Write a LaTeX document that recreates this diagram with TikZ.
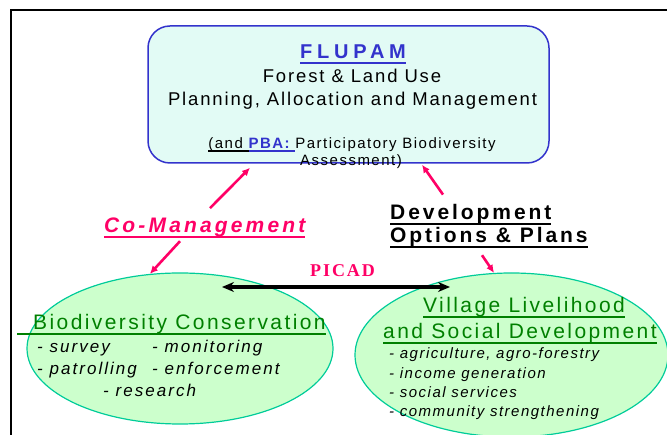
\documentclass[tikz,border=0pt]{standalone}
\usepackage{fontspec}
\setmainfont{Liberation Sans}
\newfontfamily\picadfont{Liberation Serif}
\usepackage{tikz}
\usetikzlibrary{shapes.geometric,arrows.meta}

\definecolor{flublue}{HTML}{3333CC}
\definecolor{boxfill}{HTML}{E2FBF5}
\definecolor{pinkred}{HTML}{FF0066}
\definecolor{leafgreen}{HTML}{008000}
\definecolor{ovalfill}{HTML}{CCFFCC}
\definecolor{ovaledge}{HTML}{00CC99}

\newcommand{\ulcol}[3][5pt]{{\setbox0=\hbox{#3}\rlap{\color{#2}\rule[-#1]{\wd0}{2.2pt}}\box0}}

\tikzset{%
    every oval/.style={
            ellipse,
            draw=ovaledge,
            fill=ovalfill,
            line width=1.2pt
        },
    flupam box/.style={
            rectangle,
            rounded corners=22pt,
            draw=flublue,
            fill=boxfill,
            line width=1.5pt,
            minimum width=401pt,
            minimum height=137pt
        },
    title font/.style={font=\fontsize{20}{24}\selectfont\bfseries\addfontfeatures{LetterSpace=24}, text=flublue},
    big font/.style={font=\fontsize{18.5}{22}\selectfont\addfontfeatures{LetterSpace=10}},
    small font/.style={font=\fontsize{15}{17}\selectfont\addfontfeatures{LetterSpace=10}},
    pink font/.style={font=\fontsize{21}{25}\selectfont\bfseries\itshape\addfontfeatures{LetterSpace=15}, text=pinkred},
    dev font/.style={font=\fontsize{21}{25}\selectfont\bfseries\addfontfeatures{LetterSpace=14}},
    green font/.style={font=\fontsize{21}{25}\selectfont\addfontfeatures{LetterSpace=11.5}, text=leafgreen},
    list font/.style={font=\fontsize{17}{20}\selectfont\itshape\addfontfeatures{LetterSpace=12}},
    small list font/.style={font=\fontsize{15}{18}\selectfont\itshape\addfontfeatures{LetterSpace=10}},
    picad font/.style={font=\fontsize{18}{20}\selectfont\picadfont\bfseries\addfontfeatures{LetterSpace=11}, text=pinkred},
    pink arrow/.style={->, draw=pinkred, line width=2.6pt},
    picad arrow/.style={<->, line width=3.2pt, >={Stealth[length=12pt,width=10pt]}},
    frame line/.style={line width=1.5pt}
}

\begin{document}
\begin{tikzpicture}[x=1pt, y=-1pt, >={Latex[length=8pt,width=7.5pt]}, every node/.append style={inner sep=0pt}]

        \useasboundingbox (0,0) rectangle (667,435);

        \draw [frame line] (11,435) -- (11,10) -- (667,10);

        \node [flupam box] (flupam) at (348.5,94.5) {};

        \node [title font, anchor=base] (flupam-t) at (353,59) {\ulcol{flublue}{FLUPAM}};

        \node [big font, anchor=base] (flupam-1) at (352,83) {Forest \& Land Use};

        \node [big font, anchor=base] (flupam-2) at (352.5,106) {Planning, Allocation and Management};

        \node [small font, anchor=base] (pba-1) at (352,149)
        {\ulcol[3pt]{black}{(and }\ulcol[3pt]{flublue}{\textcolor{flublue}{\bfseries PBA: }}Participatory Biodiversity};

        \node [small font, anchor=base] (pba-2) at (351,166) {Assessment)};

        \node [every oval, minimum width=306pt, minimum height=151pt] (biodiv) at (180,348.5) {};

        \node [every oval, minimum width=313pt, minimum height=164pt] (village) at (511.5,355) {};

        \node [green font, anchor=base west] (biodiv-t) at (17,330)
        {\ulcol{leafgreen}{\hspace*{16pt}Biodiversity Conservation}};

        \foreach \t/\px/\py [count=\i] in {survey/37/353, monitoring/152/353, patrolling/37/375, enforcement/152/375, research/103/397}
        \node [list font, anchor=base west] (biodiv-\i) at (\px,\py) {- \t};

        \node [green font, anchor=base west] (village-t1) at (423,313) {\ulcol{leafgreen}{Village Livelihood}};

        \node [green font, anchor=base west] (village-t2) at (383,339) {\ulcol{leafgreen}{and Social Development}};

        \foreach \t [count=\i] in {{agriculture, agro-forestry}, income generation, social services, community strengthening}
        \node [small list font, anchor=base west] (village-\i) at (389,339.5+19.3*\i) {- \t};

        \node [pink font, anchor=base west] (comgmt) at (104,233) {\ulcol{pinkred}{Co-Management}};

        \node [dev font, anchor=base west] (devopt-1) at (390,220) {\ulcol{black}{Development}};

        \node [dev font, anchor=base west] (devopt-2) at (390,243) {\ulcol{black}{Options \& Plans}};

        \draw [pink arrow] ([shift={(106pt,10pt)}]comgmt.north west) -- ([shift={(-98.5pt,-4pt)}]flupam.south);

        \draw [pink arrow] ([shift={(76pt,-3pt)}]comgmt.south west) -- (biodiv.112);

        \draw [pink arrow] ([shift={(53pt,10pt)}]devopt-1.north west) -- ([shift={(73.5pt,-1pt)}]flupam.south);

        \draw [pink arrow] ([shift={(92pt,-7pt)}]devopt-2.south west) -- (village.102);

        \draw [picad arrow] ([shift={(42pt,61.5pt)}]biodiv.center) -- ([shift={(-61.5pt,68pt)}]village.center)
        node [midway, above=9pt, xshift=6.5pt, picad font] (picad) {PICAD};

    \end{tikzpicture}
\end{document}
